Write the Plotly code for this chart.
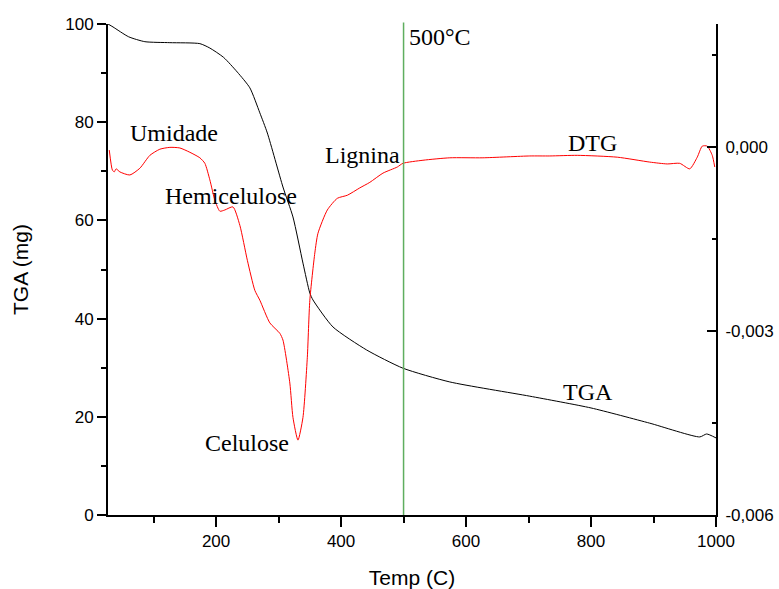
import plotly.graph_objects as go

# TGA curve (temperature in C, mass in mg)
tga_temp = [27, 35, 60, 86, 126, 174, 190, 212, 234, 254, 270, 282, 307, 323, 339, 350, 355,
            387, 441, 499, 574, 702, 800, 894, 974, 985, 1000]
tga_mass = [100, 99.4, 97.4, 96.4, 96.2, 96.0, 95.1, 93.2, 90.2, 87.0, 81.9, 77.8, 66.8, 60.7,
            51.3, 45.2, 43.8, 38.3, 33.6, 29.9, 27.1, 24.2, 21.8, 18.7, 15.9, 16.5, 15.7]

# DTG curve (temperature in C, derivative)
dtg_temp = [29, 34, 37, 40, 46, 62, 78, 94, 110, 126, 142, 158, 174, 182, 190, 198, 206, 214,
            227, 238, 250, 262, 270, 286, 302, 307, 318, 323, 331, 339, 346, 350, 358, 363,
            378, 394, 410, 430, 446, 467, 490, 499, 531, 574, 627, 702, 734, 778, 842, 894,
            922, 942, 958, 970, 978, 986, 994, 998]
dtg_val = [-0.000054, -0.00038, -0.00041, -0.00036, -0.00041, -0.00046, -0.00035, -0.00014,
           -0.00004, -0.00001, -0.00002, -0.00009, -0.00018, -0.00027, -0.00054, -0.00087,
           -0.00105, -0.00103, -0.00098, -0.00128, -0.00185, -0.00234, -0.00250, -0.00287,
           -0.00304, -0.00315, -0.00385, -0.00441, -0.00478, -0.00441, -0.00343, -0.00250,
           -0.00173, -0.00141, -0.00103, -0.00084, -0.00079, -0.00067, -0.00058, -0.00043,
           -0.00033, -0.00027, -0.00022, -0.00018, -0.00018, -0.00015, -0.00015, -0.00014,
           -0.00017, -0.00025, -0.00028, -0.00027, -0.00036, -0.00017, 0.00001, 0.00001,
           -0.00014, -0.00033]

x_ticks = [200, 400, 600, 800, 1000]
y_ticks = [0, 20, 40, 60, 80, 100]
y2_ticks = [-0.006, -0.003, 0.0]
y2_labels = ["-0,006", "-0,003", "0,000"]

labels = [
    ("Umidade", 133, 77.8),
    ("Hemicelulose", 224, 65.0),
    ("Celulose", 250, 14.7),
    ("Lignina", 435, 73.3),
    ("DTG", 802, 75.8),
    ("TGA", 795, 25.0),
]
marker_temp = 500

fig = go.Figure()
fig.add_trace(go.Scatter(x=tga_temp, y=tga_mass, mode="lines", name="TGA",
                         line=dict(color="black", width=1, shape="spline", smoothing=0.6)))
fig.add_trace(go.Scatter(x=dtg_temp, y=dtg_val, mode="lines", name="DTG", yaxis="y2",
                         line=dict(color="red", width=1, shape="spline", smoothing=0.6)))

fig.add_shape(type="line", xref="x", yref="paper", x0=marker_temp, x1=marker_temp, y0=0, y1=1.003,
              line=dict(color="#5fae5f", width=1.5))
fig.add_annotation(x=marker_temp, y=1.0, xref="x", yref="paper", text="500°C", showarrow=False,
                   xanchor="left", yanchor="top", xshift=3, yshift=2,
                   font=dict(family="Liberation Serif", size=24, color="black"))

for txt, xx, yy in labels:
    fig.add_annotation(x=xx, y=yy, xref="x", yref="y", text=txt, showarrow=False,
                       font=dict(family="Liberation Serif", size=24, color="black"))

tickfont = dict(family="Liberation Sans", size=17, color="black")
fig.update_layout(
    width=779, height=589,
    margin=dict(l=108, r=63, t=24, b=74),
    paper_bgcolor="white", plot_bgcolor="white",
    showlegend=False,
    xaxis=dict(range=[27, 1000], tickvals=x_ticks, ticks="outside", ticklen=10, tickwidth=2,
               tickcolor="black", showline=True, linecolor="black", linewidth=2,
               showgrid=False, zeroline=False, tickfont=tickfont, automargin=False,
               minor=dict(tickvals=[100, 300, 500, 700, 900], ticks="outside", ticklen=6,
                          tickwidth=2, tickcolor="black"),
               title=dict(text="Temp (C)", font=dict(family="Liberation Sans", size=21, color="black"),
                          standoff=20)),
    yaxis=dict(range=[0, 100], tickvals=y_ticks, ticks="outside", ticklen=9, tickwidth=2,
               tickcolor="black", showline=True, linecolor="black", linewidth=2,
               showgrid=False, zeroline=False, tickfont=tickfont, automargin=False,
               minor=dict(tickvals=[10, 30, 50, 70, 90], ticks="outside", ticklen=5,
                          tickwidth=2, tickcolor="black"),
               title=dict(text="TGA (mg)", font=dict(family="Liberation Sans", size=21, color="black"),
                          standoff=31)),
    yaxis2=dict(range=[-0.006, 0.002], overlaying="y", side="right", tickvals=y2_ticks,
                ticktext=y2_labels, ticks="inside", ticklen=9, tickwidth=2, tickcolor="black",
                showline=True, linecolor="black", linewidth=2, showgrid=False, zeroline=False,
                tickfont=tickfont, ticklabelstandoff=4, automargin=False,
                minor=dict(tickvals=[-0.0045, -0.0015, 0.0015], ticks="inside", ticklen=4,
                           tickwidth=2, tickcolor="black")),
)

fig.write_html("out.html")
